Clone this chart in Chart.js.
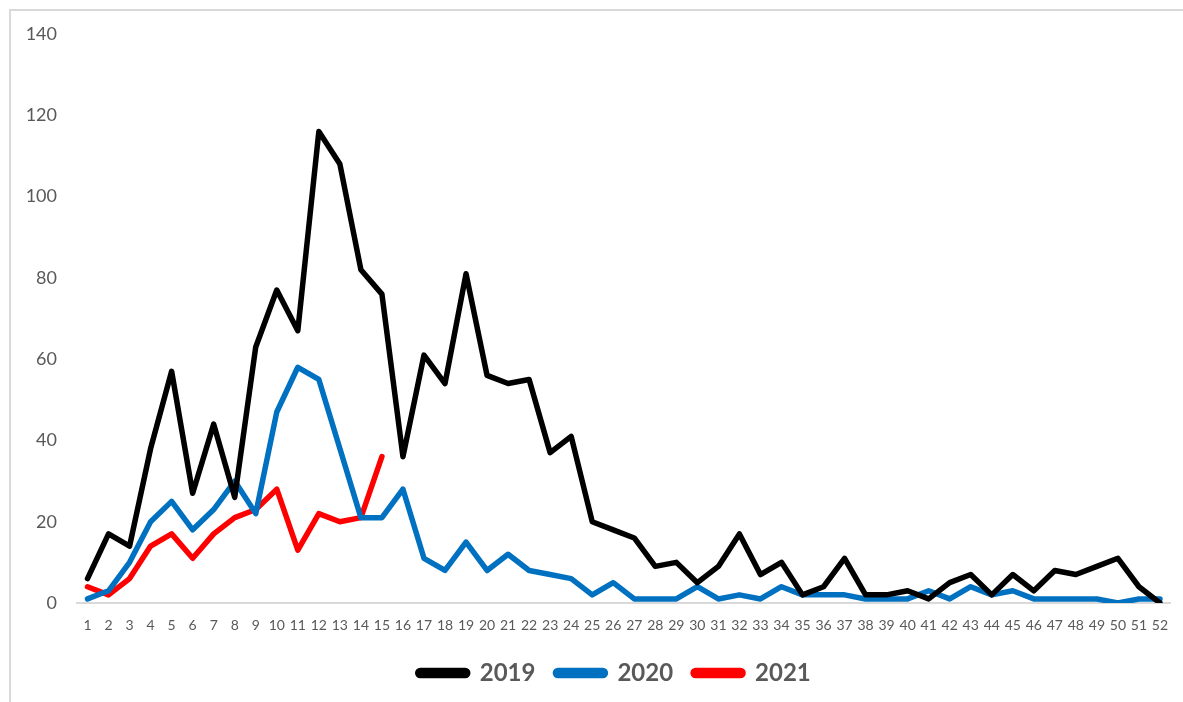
<!DOCTYPE html>
<html>
<head>
<meta charset="utf-8">
<script src="https://cdn.jsdelivr.net/npm/chart.js@4/dist/chart.umd.min.js"></script>
<style>
  html, body { margin: 0; padding: 0; background: #ffffff; }
  #wrap { position: relative; width: 1183px; height: 702px; overflow: hidden; }
  #frame { position: absolute; left: 9px; top: 9px; width: 1300px; height: 800px;
           border-top: 2px solid #d9d9d9; border-left: 2px solid #d9d9d9; }
  #c { position: absolute; left: 0; top: 0; }
</style>
</head>
<body>
<div id="wrap">
  <div id="frame"></div>
  <canvas id="c" width="1183" height="702"></canvas>
</div>
<script>
const weeks = ['1','2','3','4','5','6','7','8','9','10','11','12','13','14','15','16','17','18','19','20','21','22','23','24','25','26','27','28','29','30','31','32','33','34','35','36','37','38','39','40','41','42','43','44','45','46','47','48','49','50','51','52'];

const series2019 = [6,17,14,38,57,27,44,26,63,77,67,116,108,82,76,36,61,54,81,56,54,55,37,41,20,18,16,9,10,5,9,17,7,10,2,4,11,2,2,3,1,5,7,2,7,3,8,7,9,11,4,0];
const series2020 = [1,3,10,20,25,18,23,30,22,47,58,55,38,21,21,28,11,8,15,8,12,8,7,6,2,5,1,1,1,4,1,2,1,4,2,2,2,1,1,1,3,1,4,2,3,1,1,1,1,0,1,1];
const series2021 = [4,2,6,14,17,11,17,21,23,28,13,22,20,21,36];

const yTicks = [0,20,40,60,80,100,120,140];
const seriesNames = ['2019','2020','2021'];
const seriesColors = ['#000000','#0070C0','#FF0000'];

const legendShift = {
  id: 'legendShift',
  afterLayout(chart) {
    if (chart.legend) { chart.legend.left += 58; }
  }
};

function build() {
  const lineStyle = (i, data) => ({
    label: seriesNames[i],
    data: data,
    borderColor: seriesColors[i],
    backgroundColor: seriesColors[i],
    borderWidth: 5.5,
    pointRadius: 0,
    pointHoverRadius: 0,
    tension: 0,
    fill: false,
    borderJoinStyle: 'round',
    borderCapStyle: 'round'
  });

  new Chart(document.getElementById('c'), {
    type: 'line',
    data: {
      labels: weeks,
      datasets: [lineStyle(0, series2019), lineStyle(1, series2020), lineStyle(2, series2021)]
    },
    plugins: [legendShift],
    options: {
      responsive: false,
      animation: false,
      devicePixelRatio: 1,
      layout: { padding: { left: 0, right: 12.5, top: 34, bottom: 7 } },
      plugins: {
        tooltip: { enabled: false },
        legend: {
          position: 'bottom',
          labels: {
            boxWidth: 50,
            boxHeight: 5,
            useBorderRadius: true,
            borderRadius: 2.5,
            padding: 20,
            color: '#595959',
            font: { family: 'Lato', size: 24, weight: 'bold' }
          }
        }
      },
      scales: {
        x: {
          type: 'category',
          offset: true,
          grid: { display: false, drawTicks: false },
          border: { display: true, color: '#d9d9d9', width: 2 },
          ticks: {
            autoSkip: false,
            maxRotation: 0,
            minRotation: 0,
            padding: 14,
            color: '#595959',
            font: { family: 'Lato', size: 14 }
          },
          afterFit: (s) => { s.height = 38; }
        },
        y: {
          min: 0,
          max: 140,
          grid: { display: false, drawTicks: false },
          border: { display: false },
          afterBuildTicks: (s) => { s.ticks = yTicks.map(v => ({ value: v })); },
          ticks: {
            padding: 20,
            color: '#595959',
            font: { family: 'Lato', size: 18 }
          },
          afterFit: (s) => { s.width = 77; }
        }
      }
    }
  });
}

Promise.all([
  document.fonts.load('bold 24px Lato'),
  document.fonts.load('14px Lato'),
  document.fonts.load('18px Lato')
]).then(build, build);
</script>
</body>
</html>
